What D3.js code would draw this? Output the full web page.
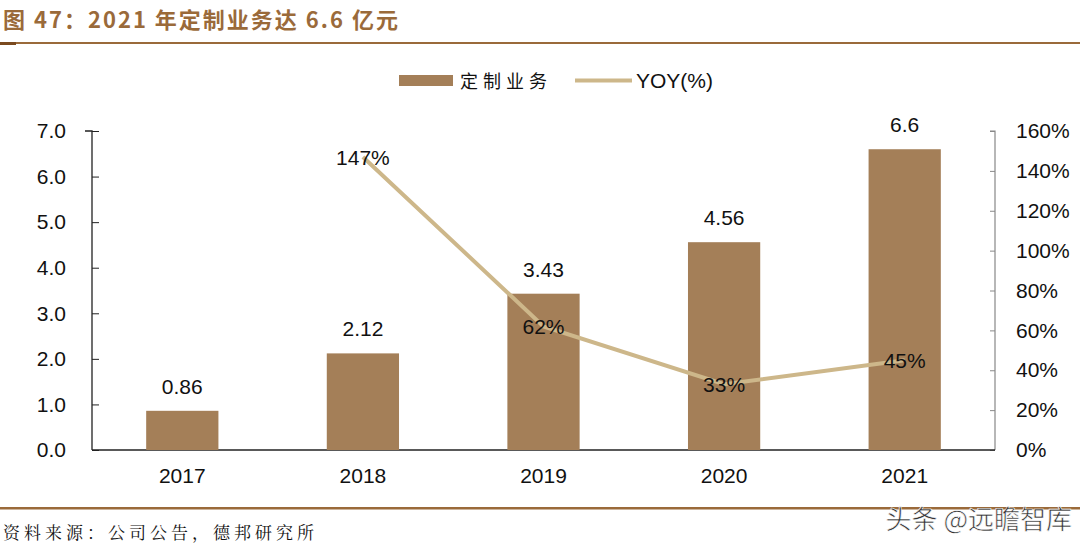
<!DOCTYPE html>
<html><head><meta charset="utf-8">
<script src="https://cdn.jsdelivr.net/npm/d3@7/dist/d3.min.js"></script>
<style>body{margin:0;background:#fff}svg{display:block}</style>
</head><body><svg id="c" width="1080" height="547"></svg>
<script>
const years = ["2017","2018","2019","2020","2021"];
const revenue = [0.86, 2.12, 3.43, 4.56, 6.6];
const revenueLabels = ["0.86","2.12","3.43","4.56","6.6"];
const yoy = [null, 147, 62, 33, 45];
const leftTicks = [0,1,2,3,4,5,6,7];
const rightTicks = [0,20,40,60,80,100,120,140,160];

const svg = d3.select("#c");
const font = "Arial, 'Liberation Sans', sans-serif";
const cjk = "'Noto Sans CJK SC', sans-serif";
const fs = 21;

// title
svg.append("text").attr("x",3).attr("y",28).attr("font-family",cjk).attr("font-weight","bold")
  .attr("font-size",22).attr("letter-spacing",2).attr("fill","#9A6A3A").text("图 47：2021 年定制业务达 6.6 亿元");
svg.append("rect").attr("x",0).attr("y",42).attr("width",1080).attr("height",2).attr("fill","#9A6A3A");
svg.append("rect").attr("x",0).attr("y",42).attr("width",16).attr("height",3).attr("fill","#7a4a1f");
svg.append("rect").attr("x",0).attr("y",507).attr("width",1080).attr("height",2.5).attr("fill","#9A6A3A");
svg.append("text").attr("x",3).attr("y",539).attr("font-family","'Noto Serif CJK SC','Noto Sans CJK SC',serif")
  .attr("font-size",17).attr("letter-spacing",4).attr("fill","#111").text("资料来源：公司公告，德邦研究所");
svg.append("text").attr("x",1072).attr("y",529).attr("text-anchor","end").attr("font-family",cjk)
  .attr("font-size",26).attr("fill","#333").attr("stroke","#fff").attr("stroke-width",0.6).text("头条 @远瞻智库");

const x = d3.scaleBand().domain(years).range([92,995]).paddingInner(0.6).paddingOuter(0.3);
const yL = d3.scaleLinear().domain([0,7]).range([450,131]);
const yR = d3.scaleLinear().domain([0,160]).range([450,131]);

// left axis
const gL = svg.append("g").attr("transform","translate(92,0)")
  .call(d3.axisLeft(yL).tickValues(leftTicks).tickSize(-7).tickPadding(26).tickFormat(d3.format(".1f")));
gL.select(".domain").attr("stroke","#222").attr("stroke-width",1.3).attr("d","M-7,131H0V450");
gL.selectAll(".tick line").attr("stroke","#222").attr("x2",7);
gL.selectAll(".tick text").attr("font-family",font).attr("font-size",fs).attr("fill","#111").attr("x",-26);

const gR = svg.append("g").attr("transform","translate(995,0)")
  .call(d3.axisRight(yR).tickValues(rightTicks).tickSize(-5).tickPadding(21).tickFormat(d=>d+"%"));
gR.select(".domain").attr("stroke","#888").attr("stroke-width",1.2).attr("d","M-5,131H0V450");
gR.selectAll(".tick line").attr("stroke","#888");
gR.selectAll(".tick text").attr("font-family",font).attr("font-size",fs).attr("fill","#111");

// x axis
const gX = svg.append("g").attr("transform","translate(0,450)")
  .call(d3.axisBottom(x).tickSize(0).tickPadding(18));
gX.select(".domain").attr("stroke","#222").attr("stroke-width",1.3).attr("d","M92,0H995");
gX.selectAll(".tick text").attr("font-family",font).attr("font-size",fs).attr("fill","#111");

// bars
svg.append("g").selectAll("rect").data(revenue).join("rect")
  .attr("x",(d,i)=>x(years[i])).attr("width",x.bandwidth())
  .attr("y",d=>yL(d)).attr("height",d=>yL(0)-yL(d)).attr("fill","#A47F58");
svg.append("g").selectAll("text").data(revenue).join("text")
  .attr("x",(d,i)=>x(years[i])+x.bandwidth()/2).attr("y",d=>yL(d)-17)
  .attr("text-anchor","middle").attr("font-family",font).attr("font-size",fs).attr("fill","#111")
  .text((d,i)=>revenueLabels[i]);

// line
const pts = yoy.map((v,i)=>({v,i})).filter(d=>d.v!==null);
svg.append("path").datum(pts).attr("fill","none").attr("stroke","#CDB78A").attr("stroke-width",4)
  .attr("d",d3.line().x(d=>x(years[d.i])+x.bandwidth()/2).y(d=>yR(d.v)));
svg.append("g").selectAll("text").data(pts).join("text")
  .attr("x",d=>x(years[d.i])+x.bandwidth()/2).attr("y",d=>yR(d.v)+8)
  .attr("text-anchor","middle").attr("font-family",font).attr("font-size",fs).attr("fill","#111")
  .text(d=>d.v+"%");

// legend
svg.append("rect").attr("x",399).attr("y",75).attr("width",54).attr("height",11).attr("fill","#A47F58");
svg.append("text").attr("x",460).attr("y",88).attr("font-family",cjk).attr("font-size",18).attr("letter-spacing",5).attr("fill","#111").text("定制业务");
svg.append("line").attr("x1",575).attr("x2",632).attr("y1",80.5).attr("y2",80.5).attr("stroke","#CDB78A").attr("stroke-width",4);
svg.append("text").attr("x",636).attr("y",88).attr("font-family",font).attr("font-size",fs).attr("fill","#111").text("YOY(%)");
</script></body></html>
